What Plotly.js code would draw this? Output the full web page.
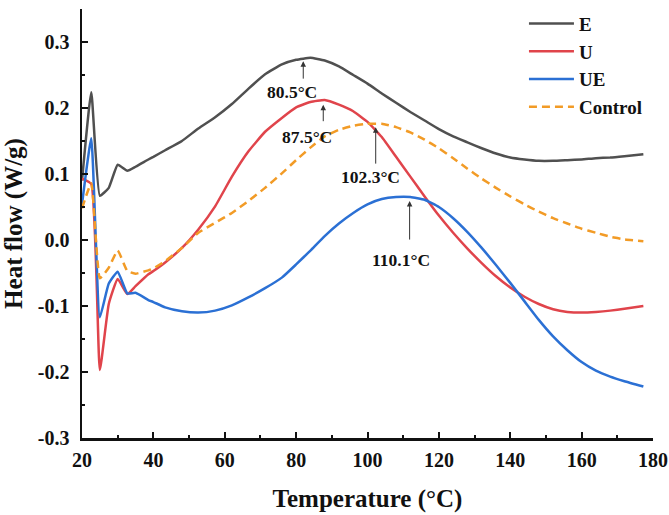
<!DOCTYPE html>
<html>
<head>
<meta charset="utf-8">
<script src="https://cdn.plot.ly/plotly-3.0.1.min.js"></script>
<style>html,body{margin:0;padding:0;background:#fff;}#chart{width:669px;height:515px;}</style>
</head>
<body>
<div id="chart"></div>
<script>
// Temperature (°C)
var temperature = [20, 22.6, 25, 27.5, 30, 32.7, 35, 38.6, 40, 43.3, 48, 52.6, 57.3, 62, 66.6, 71.3, 76, 80, 84, 88, 92, 96, 100, 104, 108, 112, 116, 120, 124, 128, 132, 136, 140, 144, 148, 152, 156, 160, 164, 168, 172, 177.3];

// Heat flow (W/g)
var seriesE = [0.090, 0.224, 0.067, 0.079, 0.114, 0.105, 0.111, 0.122, 0.126, 0.136, 0.150, 0.169, 0.186, 0.206, 0.229, 0.251, 0.266, 0.273, 0.276, 0.272, 0.263, 0.250, 0.237, 0.222, 0.208, 0.194, 0.181, 0.168, 0.157, 0.148, 0.139, 0.131, 0.125, 0.122, 0.120, 0.120, 0.121, 0.122, 0.124, 0.125, 0.127, 0.130];
var seriesU = [0.093, 0.085, -0.197, -0.097, -0.059, -0.082, -0.070, -0.052, -0.047, -0.034, -0.012, 0.016, 0.051, 0.096, 0.134, 0.164, 0.185, 0.201, 0.209, 0.212, 0.205, 0.195, 0.179, 0.156, 0.126, 0.096, 0.066, 0.037, 0.011, -0.013, -0.035, -0.055, -0.072, -0.086, -0.097, -0.105, -0.109, -0.110, -0.109, -0.107, -0.104, -0.100];
var seriesUE = [0.054, 0.154, -0.117, -0.066, -0.048, -0.081, -0.080, -0.091, -0.094, -0.102, -0.108, -0.110, -0.107, -0.099, -0.087, -0.073, -0.057, -0.037, -0.016, 0.006, 0.025, 0.041, 0.054, 0.062, 0.065, 0.065, 0.061, 0.050, 0.033, 0.012, -0.012, -0.038, -0.065, -0.093, -0.121, -0.146, -0.167, -0.185, -0.198, -0.207, -0.214, -0.222];
var seriesControl = [0.048, 0.086, -0.058, -0.042, -0.016, -0.047, -0.051, -0.046, -0.043, -0.032, -0.012, 0.011, 0.026, 0.041, 0.059, 0.079, 0.101, 0.121, 0.140, 0.157, 0.167, 0.173, 0.176, 0.176, 0.171, 0.163, 0.152, 0.139, 0.124, 0.108, 0.093, 0.079, 0.066, 0.054, 0.043, 0.033, 0.025, 0.017, 0.011, 0.005, 0.001, -0.002];

var seriesNames = ['E', 'U', 'UE', 'Control'];

// Peak markers
var peakLabels = ['80.5°C', '87.5°C', '102.3°C', '110.1°C'];
var peakArrowX = [82, 87.6, 102.3, 111.8];
var peakArrowY = [0.271, 0.205, 0.171, 0.059];
var peakLabelX = [78.8, 83, 100.7, 109.5];
var peakLabelY = [0.224, 0.156, 0.096, -0.030];

// Axis ticks
var xTickVals = [20, 40, 60, 80, 100, 120, 140, 160, 180];
var xTickLabels = ['20', '40', '60', '80', '100', '120', '140', '160', '180'];
var yTickVals = [-0.3, -0.2, -0.1, 0.0, 0.1, 0.2, 0.3];
var yTickLabels = ['-0.3', '-0.2', '-0.1', '0.0', '0.1', '0.2', '0.3'];

var FONT = '"Liberation Serif", "Times New Roman", Times, serif';
var colors = ['#505050', '#e0444b', '#2b70d4', '#f29b26'];
var dashes = ['solid', 'solid', 'solid', '8px,5px'];
var allY = [seriesE, seriesU, seriesUE, seriesControl];

var traces = allY.map(function (ys, i) {
  return {
    x: temperature, y: ys, name: seriesNames[i], type: 'scatter', mode: 'lines',
    line: {color: colors[i], width: 2.5, dash: dashes[i], shape: 'spline', smoothing: 0.4}
  };
});

var annotations = [];
peakLabels.forEach(function (t, i) {
  var len = [19, 18, 38, 40][i];
  annotations.push({
    x: peakArrowX[i], y: peakArrowY[i], xref: 'x', yref: 'y', text: '',
    showarrow: true, arrowhead: 2, arrowsize: 1.1, arrowwidth: 1, arrowcolor: '#333',
    ax: 0, ay: len, standoff: 0
  });
  annotations.push({
    x: peakLabelX[i], y: peakLabelY[i], xref: 'x', yref: 'y', text: t, showarrow: false,
    font: {family: FONT, size: 17.5, color: '#111', weight: 'bold'}
  });
});

var layout = {
  width: 669, height: 515,
  margin: {l: 82, r: 16, t: 5, b: 77},
  paper_bgcolor: '#fff', plot_bgcolor: '#fff',
  font: {family: FONT, color: '#111', weight: 'bold'},
  showlegend: true,
  legend: {
    x: 0.774, y: 1.01, xanchor: 'left', yanchor: 'top',
    font: {family: FONT, size: 19, color: '#111', weight: 'bold'},
    bgcolor: 'rgba(0,0,0,0)', itemwidth: 45, tracegroupgap: 0
  },
  xaxis: {
    range: [20, 180], tickvals: xTickVals, ticktext: xTickLabels,
    ticks: 'inside', ticklen: 6, tickwidth: 2, tickcolor: '#111',
    minor: {dtick: 10, ticks: 'inside', ticklen: 3, tickwidth: 2, tickcolor: '#111'},
    showline: true, linewidth: 2.5, linecolor: '#111', mirror: false,
    showgrid: false, zeroline: false, ticklabelstandoff: 2,
    tickfont: {family: FONT, size: 20, color: '#111', weight: 'bold'},
    title: {text: 'Temperature (°C)', font: {family: FONT, size: 25, color: '#111', weight: 'bold'}, standoff: 20}
  },
  yaxis: {
    range: [-0.3, 0.35], tickvals: yTickVals, ticktext: yTickLabels,
    ticks: 'inside', ticklen: 6, tickwidth: 2, tickcolor: '#111',
    minor: {dtick: 0.05, tick0: 0, ticks: 'inside', ticklen: 3, tickwidth: 2, tickcolor: '#111'},
    showline: true, linewidth: 2.5, linecolor: '#111', mirror: false,
    showgrid: false, zeroline: false, ticklabelstandoff: 6,
    tickfont: {family: FONT, size: 20, color: '#111', weight: 'bold'},
    title: {text: 'Heat flow (W/g)', font: {family: FONT, size: 25, color: '#111', weight: 'bold'}, standoff: 10}
  },
  annotations: annotations
};

Plotly.newPlot('chart', traces, layout, {displayModeBar: false, staticPlot: true});
</script>
</body>
</html>
